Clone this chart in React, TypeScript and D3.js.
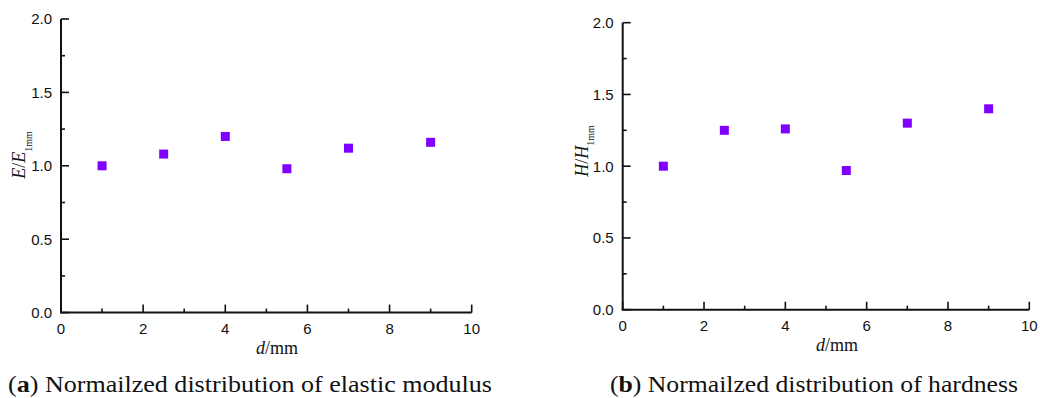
import React from 'react';
import * as d3 from 'd3';

// Measured distances and normalised values
const distances = [1, 2.5, 4, 5.5, 7, 9];
const modulusRatio = [1.0, 1.08, 1.2, 0.98, 1.12, 1.16];
const hardnessRatio = [1.0, 1.25, 1.26, 0.97, 1.3, 1.4];

const xTicks = [0, 2, 4, 6, 8, 10];
const xMinorTicks = [1, 3, 5, 7, 9];
const yTicks = [0, 0.5, 1.0, 1.5, 2.0];
const yMinorTicks = [0.25, 0.75, 1.25, 1.75];

const MARKER = '#7f00ff';
const AXIS = '#111';
const SANS = '"Liberation Sans", Arial, sans-serif';
const SERIF = '"Liberation Serif", "Times New Roman", serif';

interface PanelProps {
  values: number[];
  xRange: [number, number];
  yRange: [number, number];
  symbol: string;
  yTitle: { x: number; y: number; subDy: number };
  xTitle: { x: number; y: number };
}

const Panel: React.FC<PanelProps> = ({ values, xRange, yRange, symbol, yTitle, xTitle }) => {
  const x = d3.scaleLinear().domain([0, 10]).range(xRange);
  const y = d3.scaleLinear().domain([0, 2]).range(yRange);
  const x0 = x(0);
  const y0 = y(0);
  const size = 9;

  return (
    <g>
      {/* axes */}
      <line x1={x0} x2={x0} y1={y(2)} y2={y0} stroke={AXIS} strokeWidth={2} />
      <line x1={x0 - 1} x2={x(10)} y1={y0} y2={y0} stroke={AXIS} strokeWidth={2} />

      {yTicks.map(v => (
        <g key={`yt-${v}`}>
          <line x1={x0} x2={x0 + 8} y1={y(v)} y2={y(v)} stroke={AXIS} strokeWidth={1.6} />
          <text
            x={x0 - 9}
            y={y(v)}
            dy="0.36em"
            textAnchor="end"
            fontFamily={SANS}
            fontSize={15}
            fill="#111"
          >
            {v.toFixed(1)}
          </text>
        </g>
      ))}
      {yMinorTicks.map(v => (
        <line key={`ym-${v}`} x1={x0} x2={x0 + 4} y1={y(v)} y2={y(v)} stroke={AXIS} strokeWidth={1.6} />
      ))}

      {xTicks.map(v => (
        <g key={`xt-${v}`}>
          <line x1={x(v)} x2={x(v)} y1={y0} y2={y0 - 8} stroke={AXIS} strokeWidth={1.6} />
          <text
            x={x(v)}
            y={y0 + 21}
            textAnchor="middle"
            fontFamily={SANS}
            fontSize={15}
            fill="#111"
          >
            {v}
          </text>
        </g>
      ))}
      {xMinorTicks.map(v => (
        <line key={`xm-${v}`} x1={x(v)} x2={x(v)} y1={y0} y2={y0 - 4} stroke={AXIS} strokeWidth={1.6} />
      ))}

      {/* points */}
      {values.map((v, i) => (
        <rect
          key={`p-${i}`}
          x={x(distances[i]) - size / 2}
          y={y(v) - size / 2}
          width={size}
          height={size}
          fill={MARKER}
        />
      ))}

      {/* axis titles */}
      <text
        transform={`translate(${yTitle.x},${yTitle.y}) rotate(-90)`}
        textAnchor="middle"
        fontFamily={SERIF}
        fontSize={18}
        fill="#111"
      >
        <tspan fontStyle="italic">{symbol}</tspan>
        <tspan>/</tspan>
        <tspan fontStyle="italic">{symbol}</tspan>
        <tspan fontSize={10} dy={yTitle.subDy}>1mm</tspan>
      </text>
      <text x={xTitle.x} y={xTitle.y} textAnchor="middle" fontFamily={SERIF} fontSize={18} fill="#111">
        <tspan fontStyle="italic">d</tspan>
        <tspan>/mm</tspan>
      </text>
    </g>
  );
};

const Caption: React.FC<{ x: number; y: number; width: number; letter: string; text: string }> = ({
  x,
  y,
  width,
  letter,
  text,
}) => (
  <text
    x={x}
    y={y}
    fontFamily={SERIF}
    fontSize={24}
    fill="#111"
    textLength={width}
    lengthAdjust="spacingAndGlyphs"
  >
    <tspan>(</tspan>
    <tspan fontWeight="bold">{letter}</tspan>
    <tspan>) {text}</tspan>
  </text>
);

const App: React.FC = () => (
  <svg
    width={1040}
    height={398}
    style={{ position: 'absolute', left: 0, top: 0, background: '#fff' }}
  >
    <Panel
      values={modulusRatio}
      xRange={[61, 471.7]}
      yRange={[312.6, 19]}
      symbol="E"
      yTitle={{ x: 25, y: 155, subDy: 7 }}
      xTitle={{ x: 277, y: 354 }}
    />
    <Panel
      values={hardnessRatio}
      xRange={[622.7, 1029.3]}
      yRange={[309.7, 22.7]}
      symbol="H"
      yTitle={{ x: 588, y: 151, subDy: 6 }}
      xTitle={{ x: 837, y: 350.5 }}
    />
    <Caption x={8} y={392} width={484} letter="a" text="Normailzed distribution of elastic modulus" />
    <Caption x={610} y={392} width={408} letter="b" text="Normailzed distribution of hardness" />
  </svg>
);

export default App;
